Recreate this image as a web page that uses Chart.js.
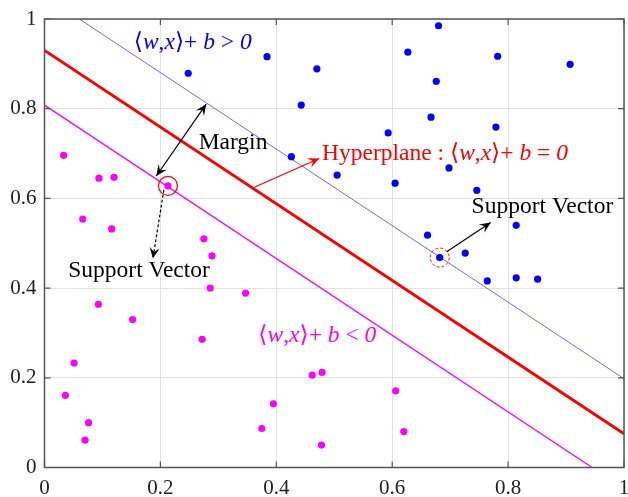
<!DOCTYPE html>
<html><head><meta charset="utf-8">
<script src="https://cdn.jsdelivr.net/npm/chart.js@4"></script>
<style>html,body{margin:0;padding:0;background:#fff}</style>
</head><body>
<canvas id="c" width="628" height="497"></canvas>
<script>
// ---- data ----
const tickValues = [0, 0.2, 0.4, 0.6, 0.8, 1];
const tickLabels = ['0', '0.2', '0.4', '0.6', '0.8', '1'];

const blueX = [0.248,0.384,0.470,0.443,0.426,0.680,0.627,0.782,0.907,0.676,0.667,0.779,0.593,0.505,0.698,0.605,0.746,0.814,0.661,0.682,0.726,0.764,0.814,0.851];
const blueY = [0.879,0.916,0.889,0.808,0.693,0.985,0.926,0.917,0.899,0.861,0.781,0.759,0.746,0.652,0.668,0.634,0.618,0.540,0.518,0.468,0.478,0.416,0.423,0.420];

const magX = [0.033,0.094,0.120,0.213,0.066,0.116,0.275,0.289,0.286,0.347,0.093,0.152,0.272,0.051,0.036,0.076,0.070,0.395,0.375,0.462,0.479,0.606,0.620,0.478];
const magY = [0.696,0.645,0.647,0.628,0.554,0.532,0.510,0.472,0.400,0.389,0.364,0.330,0.286,0.233,0.161,0.100,0.061,0.142,0.087,0.206,0.212,0.171,0.080,0.050];

// line endpoints [x0,y0,x1,y1]
const hyperplane = [0, 0.930, 1, 0.075];
const posMargin = [0.060, 1, 1, 0.198];
const negMargin = [0, 0.808, 0.945, 0];

// support vectors (circled)
const supportVectors = [[0.213, 0.628, 'solid'], [0.682, 0.468, 'dashed']];

// arrows: [x0,y0,x1,y1, color, dashed, doubleHead]
const arrows = [
  [0.193, 0.650, 0.279, 0.810, '#000', false, true],
  [0.206, 0.619, 0.187, 0.466, '#000', true, false],
  [0.362, 0.625, 0.474, 0.689, '#ff0000', false, false],
  [0.694, 0.481, 0.770, 0.546, '#000', false, false]
];

// labels: [x, y(center), segments, color]
const labels = [
  [0.154, 0.947, [['⟨',0],['w',1],[',',0],['x',1],['⟩',0],['+ ',0],['b',1],[' > ',0],['0',1]], '#0000ff'],
  [0.369, 0.293, [['⟨',0],['w',1],[',',0],['x',1],['⟩',0],['+ ',0],['b',1],[' < ',0],['0',1]], '#ff00ff'],
  [0.266, 0.723, [['Margin',0]], '#000'],
  [0.479, 0.699, [['Hyperplane : ',0],['⟨',0],['w',1],[',',0],['x',1],['⟩',0],['+ ',0],['b',1],[' = ',0],['0',1]], '#ff0000'],
  [0.041, 0.439, [['Support Vector',0]], '#000'],
  [0.737, 0.581, [['Support Vector',0]], '#000']
];

const toPts = (xs, ys) => xs.map((x, i) => ({x, y: ys[i]}));
const seg = a => [{x: a[0], y: a[1]}, {x: a[2], y: a[3]}];

const FONT = '"Liberation Serif", "DejaVu Serif", serif';
const AXIS_COLOR = '#555';

function arrowHead(ctx, x0, y0, x1, y1, color) {
  const ang = Math.atan2(y1 - y0, x1 - x0);
  const L = 11, W = 5;
  ctx.save();
  ctx.translate(x1, y1);
  ctx.rotate(ang);
  ctx.beginPath();
  ctx.moveTo(0, 0);
  ctx.lineTo(-L, -W);
  ctx.lineTo(-L * 0.6, 0);
  ctx.lineTo(-L, W);
  ctx.closePath();
  ctx.fillStyle = color;
  ctx.fill();
  ctx.restore();
}

const overlay = {
  id: 'overlay',
  afterDraw(chart) {
    const ctx = chart.ctx;
    const xs = chart.scales.x, ys = chart.scales.y;
    const a = chart.chartArea;
    const px = v => xs.getPixelForValue(v), py = v => ys.getPixelForValue(v);

    // axes box + inward ticks
    ctx.save();
    ctx.strokeStyle = AXIS_COLOR;
    ctx.lineWidth = 1.5;
    ctx.strokeRect(a.left, a.top, a.right - a.left, a.bottom - a.top);
    ctx.lineWidth = 1.2;
    ctx.beginPath();
    tickValues.forEach(v => {
      const X = px(v), Y = py(v);
      ctx.moveTo(X, a.bottom); ctx.lineTo(X, a.bottom - 6);
      ctx.moveTo(X, a.top); ctx.lineTo(X, a.top + 6);
      ctx.moveTo(a.left, Y); ctx.lineTo(a.left + 6, Y);
      ctx.moveTo(a.right, Y); ctx.lineTo(a.right - 6, Y);
    });
    ctx.stroke();
    ctx.restore();

    // support vector circles
    supportVectors.forEach(([x, y, style]) => {
      ctx.save();
      ctx.strokeStyle = '#ff0000';
      ctx.lineWidth = style === 'solid' ? 1.2 : 0.9;
      if (style === 'dashed') ctx.setLineDash([3, 2]);
      ctx.beginPath();
      ctx.arc(px(x), py(y), 9.5, 0, Math.PI * 2);
      ctx.stroke();
      ctx.restore();
    });

    // arrows
    arrows.forEach(([x0, y0, x1, y1, color, dashed, dbl]) => {
      const X0 = px(x0), Y0 = py(y0), X1 = px(x1), Y1 = py(y1);
      ctx.save();
      ctx.strokeStyle = color;
      ctx.lineWidth = 1.2;
      if (dashed) ctx.setLineDash([3, 2]);
      ctx.beginPath();
      ctx.moveTo(X0, Y0); ctx.lineTo(X1, Y1);
      ctx.stroke();
      ctx.restore();
      arrowHead(ctx, X0, Y0, X1, Y1, color);
      if (dbl) arrowHead(ctx, X1, Y1, X0, Y0, color);
    });

    // labels
    labels.forEach(([x, y, segs, color]) => {
      let X = px(x);
      const Y = py(y);
      ctx.save();
      ctx.fillStyle = color;
      ctx.textBaseline = 'middle';
      ctx.textAlign = 'left';
      segs.forEach(([t, it]) => {
        ctx.font = (it ? 'italic ' : '') + '23.5px ' + FONT;
        ctx.fillText(t, X, Y);
        X += ctx.measureText(t).width;
      });
      ctx.restore();
    });
  }
};

const tickOpts = {
  color: '#222',
  font: {family: FONT, size: 21},
  padding: 8,
  maxRotation: 0,
  autoSkip: false,
  callback: (v, i) => tickLabels[i]
};
const setTicks = s => { s.ticks = tickValues.map(v => ({value: v})); };

new Chart(document.getElementById('c'), {
  type: 'scatter',
  data: {
    datasets: [
      {data: toPts(blueX, blueY), backgroundColor: '#0000ff', borderColor: '#0000ff', pointRadius: 3.6, borderWidth: 0, order: 0},
      {data: toPts(magX, magY), backgroundColor: '#ff00ff', borderColor: '#ff00ff', pointRadius: 3.6, borderWidth: 0, order: 1},
      {data: seg(posMargin), showLine: true, borderColor: '#6a6aff', borderWidth: 1, pointRadius: 0, order: 2},
      {data: seg(negMargin), showLine: true, borderColor: '#ff00ff', borderWidth: 1.3, pointRadius: 0, order: 3},
      {data: seg(hyperplane), showLine: true, borderColor: '#ff0000', borderWidth: 3, pointRadius: 0, order: 4}
    ]
  },
  options: {
    responsive: false,
    animation: false,
    events: [],
    layout: {padding: {top: 19, right: 3.5, left: 0, bottom: 0}},
    plugins: {legend: {display: false}, tooltip: {enabled: false}},
    scales: {
      x: {
        type: 'linear', min: 0, max: 1,
        afterBuildTicks: setTicks,
        afterFit: s => { s.height = 29.5; s.paddingLeft = 0; s.paddingRight = 0; },
        grid: {color: '#e2e2e2', lineWidth: 1, drawTicks: false},
        border: {display: false},
        ticks: tickOpts
      },
      y: {
        type: 'linear', min: 0, max: 1,
        afterBuildTicks: setTicks,
        afterFit: s => { s.width = 44.5; s.paddingTop = 0; s.paddingBottom = 0; },
        grid: {color: '#e2e2e2', lineWidth: 1, drawTicks: false},
        border: {display: false},
        ticks: tickOpts
      }
    }
  },
  plugins: [overlay]
});
</script>
</body></html>
